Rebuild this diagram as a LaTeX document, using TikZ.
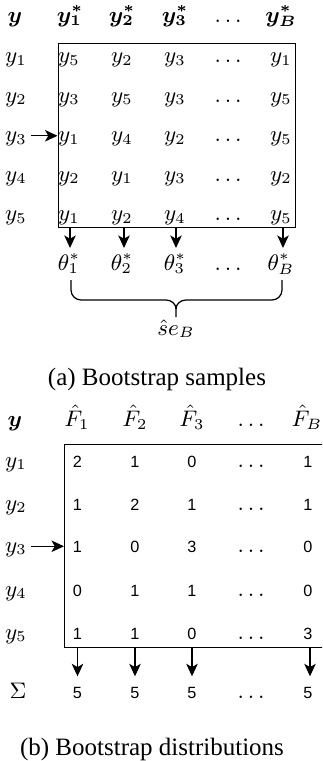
\documentclass[tikz,border=0pt]{standalone}
\usepackage{amsmath}
\usepackage{bm}
\usepackage[no-math]{fontspec}
\setmainfont{Liberation Serif}
\newfontfamily\numfont{Liberation Sans}
\usetikzlibrary{arrows.meta}
\begin{document}
\begin{tikzpicture}[x=0.4pt,y=-0.4pt,
  mt/.style={font=\fontsize{9}{11}\selectfont, inner sep=0pt, anchor=base},
  lab/.style={mt, inner sep=1.5pt},
  nm/.style={font=\numfont\fontsize{6.5}{8}\selectfont, inner sep=0pt, anchor=base},
  arr/.style={-{Stealth[length=5pt,width=4.6pt,inset=1.3pt]}, line width=0.5pt},
  boxs/.style={draw, line width=0.5pt, inner sep=0pt, anchor=north west},
  captxt/.style={font=\fontsize{10}{12}\selectfont, anchor=base, inner sep=0pt},
  brace/.style={line width=0.5pt},
]
\useasboundingbox (0,0) rectangle (322,761);
\clip (0,0) rectangle (322,761);

% ---------------- (a) ----------------
\node[mt] (ha0) at (15,22) {$\bm{y}$};
\node[mt] (ha1) at (70,22) {$\bm{y_1^*}$};
\node[mt] (ha2) at (122,22) {$\bm{y_2^*}$};
\node[mt] (ha3) at (175,22) {$\bm{y_3^*}$};
\node[mt] (ha4) at (228,22) {$\ldots$};
\node[mt] (ha5) at (281,22) {$\bm{y_B^*}$};

\node[boxs, minimum width=95pt, minimum height=73.6pt] (boxa) at (57.5,42.5) {};

\node[lab] (la1) at (16,62.5) {$y_1$};
\node[lab] (la2) at (16,102) {$y_2$};
\node[lab] (la3) at (16,141.5) {$y_3$};
\node[lab] (la4) at (16,181) {$y_4$};
\node[lab] (la5) at (16,220.5) {$y_5$};

% row 1
\node[mt] (a11) at (69,62.5) {$y_5$};
\node[mt] (a12) at (122,62.5) {$y_2$};
\node[mt] (a13) at (175,62.5) {$y_3$};
\node[mt] (a14) at (228,62.5) {$\ldots$};
\node[mt] (a15) at (281,62.5) {$y_1$};
% row 2
\node[mt] (a21) at (69,102) {$y_3$};
\node[mt] (a22) at (122,102) {$y_5$};
\node[mt] (a23) at (175,102) {$y_3$};
\node[mt] (a24) at (228,102) {$\ldots$};
\node[mt] (a25) at (281,102) {$y_5$};
% row 3
\node[mt] (a31) at (69,141.5) {$y_1$};
\node[mt] (a32) at (122,141.5) {$y_4$};
\node[mt] (a33) at (175,141.5) {$y_2$};
\node[mt] (a34) at (228,141.5) {$\ldots$};
\node[mt] (a35) at (281,141.5) {$y_5$};
% row 4
\node[mt] (a41) at (69,181) {$y_2$};
\node[mt] (a42) at (122,181) {$y_1$};
\node[mt] (a43) at (175,181) {$y_3$};
\node[mt] (a44) at (228,181) {$\ldots$};
\node[mt] (a45) at (281,181) {$y_2$};
% row 5
\node[mt] (a51) at (69,220.5) {$y_1$};
\node[mt] (a52) at (122,220.5) {$y_2$};
\node[mt] (a53) at (175,220.5) {$y_4$};
\node[mt] (a54) at (228,220.5) {$\ldots$};
\node[mt] (a55) at (281,220.5) {$y_5$};

\draw[arr] (la3.mid east) -- (la3.mid east -| boxa.west);

% thetas
\node[mt] (t1) at (69,270) {$\theta_1^*$};
\node[mt] (t2) at (122,270) {$\theta_2^*$};
\node[mt] (t3) at (175,270) {$\theta_3^*$};
\node[mt] (t4) at (228,270) {$\ldots$};
\node[mt] (t5) at (281,270) {$\theta_B^*$};

\coordinate (da1) at (70,0);
\coordinate (da2) at (124,0);
\coordinate (da3) at (176,0);
\coordinate (da5) at (283,0);
\draw[arr, shorten >=2pt] (boxa.south -| da1) -- (t1.north -| da1);
\draw[arr, shorten >=2pt] (boxa.south -| da2) -- (t2.north -| da2);
\draw[arr, shorten >=2pt] (boxa.south -| da3) -- (t3.north -| da3);
\draw[arr, shorten >=2pt] (boxa.south -| da5) -- (t5.north -| da5);

% brace
\draw[brace] (71,280) -- (71,290) to[out=-90,in=180] (81,300) -- (166,300)
  to[out=0,in=90] (176,309) -- (176,317);
\draw[brace] (282,280) -- (282,290) to[out=-90,in=0] (272,300) -- (186,300)
  to[out=180,in=90] (176,309);

\node[mt] (se) at (176,335) {$\hat{s}e_B$};

\node[captxt] (capa) at (157,385) {(a) Bootstrap samples};

% ---------------- (b) ----------------
\node[mt] (hb0) at (15,426.5) {$\bm{y}$};
\node[mt] (hb1) at (77,426.5) {$\hat{F}_1$};
\node[mt] (hb2) at (135,426.5) {$\hat{F}_2$};
\node[mt] (hb3) at (192,426.5) {$\hat{F}_3$};
\node[mt] (hb4) at (251,426.5) {$\ldots$};
\node[mt] (hb5) at (307,426.5) {$\hat{F}_B$};

\node[boxs, minimum width=104.4pt, minimum height=81.2pt] (boxb) at (64,444) {};

\node[lab] (lb1) at (16,467) {$y_1$};
\node[lab] (lb2) at (16,510) {$y_2$};
\node[lab] (lb3) at (16,552) {$y_3$};
\node[lab] (lb4) at (16,596) {$y_4$};
\node[lab] (lb5) at (16,639) {$y_5$};

% row 1
\node[nm] (b11) at (77.5,467) {2};
\node[nm] (b12) at (135,467) {1};
\node[nm] (b13) at (192,467) {0};
\node[mt] (b14) at (251,467) {$\ldots$};
\node[nm] (b15) at (308,467) {1};
% row 2
\node[nm] (b21) at (77.5,510) {1};
\node[nm] (b22) at (135,510) {2};
\node[nm] (b23) at (192,510) {1};
\node[mt] (b24) at (251,510) {$\ldots$};
\node[nm] (b25) at (308,510) {1};
% row 3
\node[nm] (b31) at (77.5,552) {1};
\node[nm] (b32) at (135,552) {0};
\node[nm] (b33) at (192,552) {3};
\node[mt] (b34) at (251,552) {$\ldots$};
\node[nm] (b35) at (308,552) {0};
% row 4
\node[nm] (b41) at (77.5,596) {0};
\node[nm] (b42) at (135,596) {1};
\node[nm] (b43) at (192,596) {1};
\node[mt] (b44) at (251,596) {$\ldots$};
\node[nm] (b45) at (308,596) {0};
% row 5
\node[nm] (b51) at (77.5,639) {1};
\node[nm] (b52) at (135,639) {1};
\node[nm] (b53) at (192,639) {0};
\node[mt] (b54) at (251,639) {$\ldots$};
\node[nm] (b55) at (308,639) {3};

\draw[arr] (lb3.mid east) -- (lb3.mid east -| boxb.west);

% sums
\node[mt] (sg) at (18,698) {$\Sigma$};
\node[nm] (s1) at (77.5,698) {5};
\node[nm] (s2) at (135,698) {5};
\node[nm] (s3) at (192,698) {5};
\node[mt] (s4) at (251,698) {$\ldots$};
\node[nm] (s5) at (308,698) {5};

\coordinate (db5) at (310,0);
\draw[arr, shorten >=4pt] (boxb.south -| s1) -- (s1.north);
\draw[arr, shorten >=4pt] (boxb.south -| s2) -- (s2.north);
\draw[arr, shorten >=4pt] (boxb.south -| s3) -- (s3.north);
\draw[arr, shorten >=4pt] (boxb.south -| db5) -- (s5.north -| db5);

\node[captxt] (capb) at (152,755) {(b) Bootstrap distributions};
\end{tikzpicture}
\end{document}
